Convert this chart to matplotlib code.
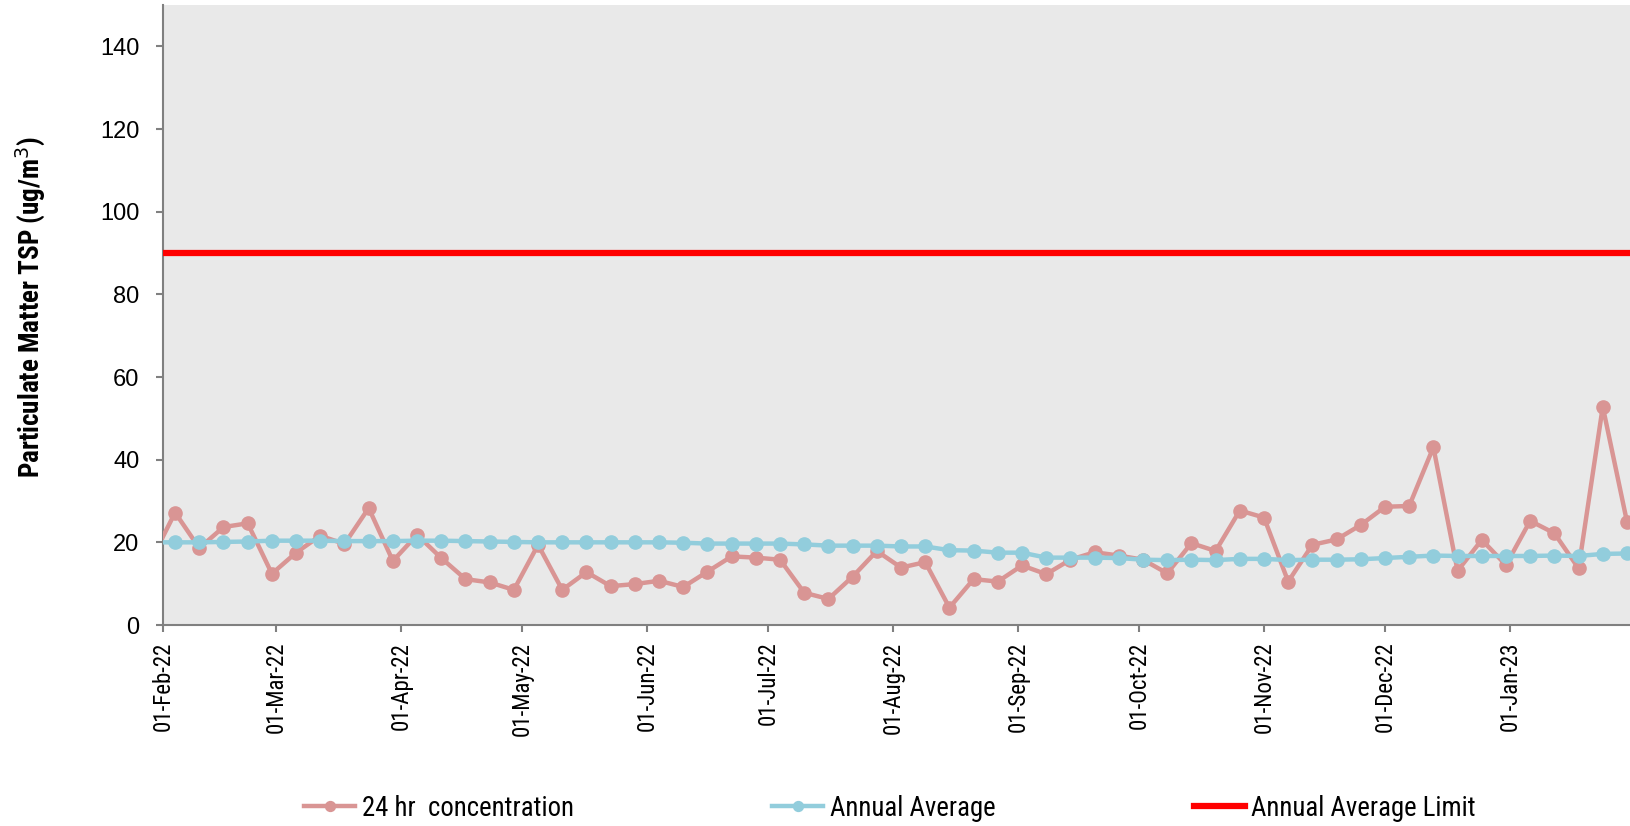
import numpy as np
import pandas as pd
import matplotlib
matplotlib.use("Agg")
import matplotlib.pyplot as plt
import matplotlib.dates as mdates

# Dates d'échantillonnage (tous les 6 jours)
dates = pd.date_range("2022-01-29", periods=62, freq="6D")

conc_24h = [15.6, 27.2, 18.6, 23.7, 24.6, 12.4, 17.5, 21.6, 19.6, 28.3,
            15.5, 21.8, 16.2, 11.1, 10.3, 8.5, 19.4, 8.5, 12.8, 9.4,
            9.9, 10.7, 9.2, 12.9, 16.6, 16.3, 15.8, 7.8, 6.3, 11.7,
            17.9, 13.9, 15.2, 4.2, 11.1, 10.5, 14.4, 12.3, 15.8, 17.6,
            16.8, 15.8, 12.5, 19.8, 17.9, 27.7, 26.0, 10.5, 19.4, 20.7,
            24.2, 28.6, 28.8, 43.0, 13.1, 20.6, 14.5, 25.2, 22.2, 13.7,
            52.8, 25.0]

annual_avg = [20.0, 20.0, 20.0, 20.1, 20.2, 20.4, 20.4, 20.4, 20.3, 20.3,
              20.3, 20.4, 20.4, 20.3, 20.2, 20.1, 20.0, 20.0, 20.0, 20.0,
              20.0, 20.0, 19.9, 19.7, 19.7, 19.7, 19.7, 19.5, 19.2, 19.2,
              19.2, 19.0, 19.0, 18.1, 18.0, 17.5, 17.5, 16.3, 16.3, 16.3,
              16.2, 15.8, 15.7, 15.8, 15.7, 16.0, 16.0, 15.7, 15.8, 15.8,
              15.9, 16.2, 16.5, 16.8, 16.7, 16.7, 16.7, 16.7, 16.8, 16.7,
              17.2, 17.3]

limit = 90

narrow = ["Roboto Condensed", "Liberation Sans", "DejaVu Sans"]

fig = plt.figure(figsize=(16.31, 8.26), dpi=100)
ax = fig.add_axes([163 / 1631, 1 - 625 / 826, 1 - 163 / 1631, 620 / 826])
ax.set_facecolor("#E9E9E9")

ax.plot(dates, conc_24h, color="#D99594", lw=3.2, marker="o", ms=9.5,
        label="24 hr  concentration", zorder=3)
ax.plot(dates, annual_avg, color="#92CDDC", lw=3.2, marker="o", ms=9.5,
        label="Annual Average", zorder=4)
ax.axhline(limit, color="#FF0000", lw=4.5, label="Annual Average Limit", zorder=5)

ax.set_xlim(pd.Timestamp("2022-02-01"), pd.Timestamp("2023-01-31"))
ax.set_ylim(0, 150)
ax.set_yticks(np.arange(0, 141, 20))

ax.xaxis.set_major_locator(mdates.MonthLocator(bymonthday=1))
ax.xaxis.set_major_formatter(mdates.DateFormatter("%d-%b-%y"))
for lab in ax.get_xticklabels():
    lab.set_rotation(90)
    lab.set_family(narrow)
    lab.set_fontsize(16.5)
for lab in ax.get_yticklabels():
    lab.set_family(["Liberation Sans", "DejaVu Sans"])
    lab.set_fontsize(17)

ax.tick_params(axis="both", colors="#808080", length=5, width=1.5, labelcolor="black")
ax.tick_params(axis="y", pad=12)
ax.tick_params(axis="x", pad=7)
for s in ["top", "right"]:
    ax.spines[s].set_visible(False)
for s in ["left", "bottom"]:
    ax.spines[s].set_color("#808080")
    ax.spines[s].set_linewidth(1.5)

# Titre de l'axe Y
fig.text(30 / 1631, 1 - 307 / 826, "Particulate Matter TSP (ug/m$^3$)",
         family=narrow, fontsize=19.5, fontweight="bold", rotation=90,
         ha="center", va="center")

fig.legend(loc="center", bbox_to_anchor=(890 / 1631, 1 - 808 / 826), ncol=3,
           frameon=False, prop={"family": narrow, "size": 19.3},
           handlelength=1.9, handletextpad=0.25, columnspacing=7.4,
           markerscale=0.75)

fig.savefig("out.png", dpi=100)
